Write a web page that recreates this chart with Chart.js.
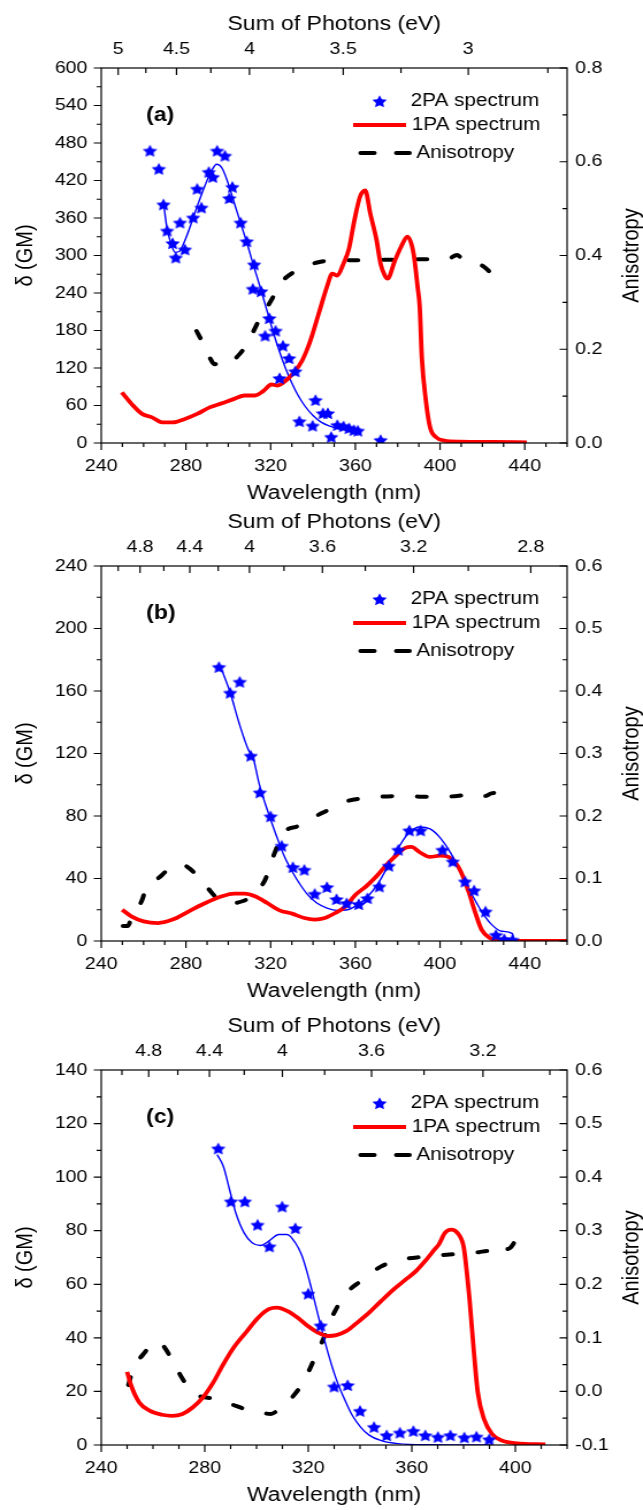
<!DOCTYPE html>
<html>
<head>
<meta charset="utf-8">
<script src="https://cdn.jsdelivr.net/npm/chart.js@4.4.1/dist/chart.umd.min.js"></script>
<style>
  html, body { margin: 0; padding: 0; background: #fff; }
  body { position: relative; width: 643px; height: 1510px; overflow: hidden; }
  canvas { position: absolute; left: 0; }
</style>
</head>
<body>
<!-- backing canvas is narrower than the page, CSS stretches it like the original figure -->
<canvas id="panelA" width="559" height="507" style="top:0px;width:643px;height:507px"></canvas>
<canvas id="panelB" width="559" height="507" style="top:498px;width:643px;height:507px"></canvas>
<canvas id="panelC" width="559" height="507" style="top:1002px;width:643px;height:507px"></canvas>
<script>
// ---------- panel (a) ----------
const A_LAM_2PA = [263, 267.2, 269.4, 271.1, 273.7, 275.2, 277.2, 279.5, 283.4, 285.3, 287.3, 290.8, 292.7, 294.7, 298.4, 300.5, 301.9, 305.8, 308.7, 311.6, 312.2, 315.5, 317.4, 319.4, 322.3, 324.2, 325.8, 328.7, 331.6, 333.6, 339.8, 341.2, 344.7, 347, 348.6, 351.5, 354.4, 357, 359.3, 361.2, 371.9];
const A_GM_2PA = [468, 439, 382, 340, 320, 297, 353, 310, 361, 407, 377, 434, 426, 468, 460, 392, 410, 353, 323, 247, 286, 243, 172, 200, 180, 104, 156, 136, 115, 35, 28, 69, 48, 48, 10, 29, 27, 24, 21, 20, 5];
const A_LAM_FIT = [269.5, 271, 273, 275, 277, 280, 283, 286, 289, 292, 294.5, 297, 300, 303, 306, 309, 312, 315, 318, 321, 324, 327, 330, 333, 336, 340, 344, 348, 352, 356, 361];
const A_GM_FIT = [382, 345, 318, 305, 307, 328, 356, 385, 412, 435, 446, 440, 415, 382, 350, 318, 283, 250, 215, 180, 148, 120, 96, 76, 60, 44, 33, 27, 23, 21, 19];
const A_LAM_1PA = [249.7, 254.2, 259.1, 264, 268.8, 273.7, 279.5, 285.3, 291.2, 297, 302.8, 307.7, 312.6, 316.5, 320.4, 323.3, 327.2, 331, 334.9, 338.8, 342.7, 346.6, 349.1, 351.5, 354.4, 357, 359.6, 362.2, 364.7, 367, 370, 371.9, 373.9, 375.2, 378.7, 381.6, 384.6, 387.5, 389.4, 390.4, 391.4, 393.3, 395.3, 398.2, 402, 409.8, 425.4, 441];
const A_GM_1PA = [81, 63, 47, 41, 33, 33, 38.5, 46.5, 57, 63.6, 70.6, 76, 76, 83, 93.6, 92, 100, 113, 132, 164, 207, 250, 271, 268, 287, 311, 357, 394, 404, 368, 325, 287, 268, 263, 292, 314, 330, 303, 250, 218, 137, 68, 25, 9, 3.7, 2, 1.6, 1];
const A_LAM_ANI = [285, 287, 289, 291.5, 293.5, 295, 297, 299, 302, 305, 308, 311, 314.5, 318, 321, 324, 327, 330, 334, 338, 342, 347, 353, 360, 370, 380, 390, 400, 404, 408, 411, 416, 420.5, 423.5];
const A_R_ANI = [0.239, 0.222, 0.2, 0.18, 0.168, 0.169, 0.164, 0.167, 0.175, 0.188, 0.205, 0.23, 0.262, 0.288, 0.31, 0.338, 0.352, 0.362, 0.373, 0.38, 0.385, 0.389, 0.39, 0.39, 0.391, 0.391, 0.392, 0.392, 0.393, 0.401, 0.39, 0.383, 0.377, 0.365];
const A_X_TICKS = [240, 280, 320, 360, 400, 440];
const A_Y_TICKS = [0, 60, 120, 180, 240, 300, 360, 420, 480, 540, 600];
const A_Y2_TICKS = [0, 0.2, 0.4, 0.6, 0.8];
const A_E_TICKS = [5, 4.5, 4, 3.5, 3];
const A_E_MINOR = [4.75, 4.25, 3.75, 3.25, 2.75];

// ---------- panel (b) ----------
const B_LAM_2PA = [295.6, 300.9, 305.4, 310.6, 314.9, 320, 325.2, 330.5, 335.9, 340.8, 346.6, 351.1, 355.9, 361.6, 365.7, 371.3, 375.8, 380.3, 385.5, 390.8, 401.1, 406, 411.8, 416.1, 421.5, 426.4, 430.3, 434.2];
const B_GM_2PA = [175.5, 159, 166, 118.7, 95.2, 79.9, 61.1, 47.4, 45.7, 30.3, 34.6, 26.9, 24.3, 23.7, 27.5, 35, 48.3, 58.5, 70.9, 70.9, 58.5, 51, 38.2, 32.5, 19, 4, 1.3, 0.9];
const B_LAM_FIT = [297, 300.9, 305, 309.6, 311.6, 314.5, 318.4, 322.3, 326.2, 330.1, 334, 337.9, 341.8, 346.6, 351.5, 356.3, 361.2, 366, 370.9, 375.8, 380.7, 385.5, 390.4, 395.3, 400.1, 405, 409.8, 414.7, 419.6, 424.4, 429.3, 434.2, 434.6];
const B_GM_FIT = [173.3, 159, 140, 122, 118, 101, 84, 69, 55, 44.6, 36, 29, 24.3, 21.1, 19.6, 20, 23.3, 28.6, 37.2, 48.9, 60.6, 69.6, 73, 71.7, 66, 56.4, 43.6, 30.7, 19, 10.5, 6.2, 4.7, 0.5];
const B_LAM_1PA = [249.9, 254.2, 260, 266.8, 273.7, 281.4, 289.2, 297, 302.8, 307.7, 312.6, 318.4, 324.2, 330.1, 335.9, 340.8, 345.6, 350.5, 355.4, 360.2, 365.1, 370, 374.8, 379.7, 383.6, 386.5, 390.4, 395.3, 400.1, 404, 407.9, 410.8, 413.7, 416.7, 419.6, 423.5, 429.3, 444.9, 460];
const B_GM_1PA = [20, 15.8, 12.6, 11.5, 13.7, 19, 24.3, 28.6, 30.3, 30.3, 28.6, 24.3, 19.6, 17.5, 14.7, 13.7, 14.7, 17.9, 22.2, 29.7, 35, 41.4, 48.9, 55.3, 59.6, 60.2, 56.8, 53.8, 54.7, 53.8, 48.9, 41.4, 30.7, 17.9, 7.3, 1.9, 0.2, 0, 0];
const B_LAM_ANI = [250.3, 252.5, 254.6, 257, 259.1, 261, 264.5, 268.2, 271, 273.7, 277.5, 280, 282.4, 285, 287.3, 291, 295.1, 299, 302.8, 307, 311.6, 314.5, 317.4, 321.9, 326.2, 333, 339.8, 345, 349.5, 356.3, 366, 372.9, 382.6, 390.4, 400.1, 408, 412, 415.7, 418.5, 421.5, 424, 425.4, 426.4];
const B_R_ANI = [0.024, 0.024, 0.04, 0.052, 0.064, 0.082, 0.094, 0.104, 0.113, 0.12, 0.122, 0.12, 0.114, 0.106, 0.098, 0.082, 0.067, 0.062, 0.061, 0.064, 0.072, 0.083, 0.098, 0.141, 0.173, 0.184, 0.197, 0.206, 0.213, 0.224, 0.229, 0.231, 0.232, 0.231, 0.231, 0.232, 0.234, 0.236, 0.233, 0.232, 0.236, 0.237, 0.224];
const B_X_TICKS = [240, 280, 320, 360, 400, 440];
const B_Y_TICKS = [0, 40, 80, 120, 160, 200, 240];
const B_Y2_TICKS = [0, 0.1, 0.2, 0.3, 0.4, 0.5, 0.6];
const B_E_TICKS = [4.8, 4.4, 4, 3.6, 3.2, 2.8];
const B_E_MINOR = [5.0, 4.6, 4.2, 3.8, 3.4, 3.0];

// ---------- panel (c) ----------
const C_LAM_2PA = [285.2, 290.1, 295.5, 300.4, 305, 309.9, 315, 320, 324.8, 330, 335.2, 340, 345.4, 350.3, 355.4, 360.6, 365.2, 370.1, 374.9, 380.3, 385, 389.9];
const C_GM_2PA = [110.8, 91, 91, 82.3, 74.2, 89.1, 81, 56.6, 44.7, 21.9, 22.4, 12.8, 6.8, 3.7, 4.7, 5.3, 3.7, 3.1, 3.7, 2.9, 3.2, 2.2];
const C_LAM_FIT = [284.8, 287.2, 289.6, 292, 295.2, 298.3, 301.5, 304.7, 308.6, 311.8, 315, 317.4, 319.4, 321.3, 324.5, 327.6, 330.8, 334, 337.1, 340.3, 343.5, 348.2, 354.6, 367.3, 391];
const C_GM_FIT = [108.4, 104, 95.3, 86.6, 79.2, 75.5, 74.5, 76.1, 78.6, 78.6, 75.5, 71, 65, 58.1, 45.7, 34.5, 24.6, 17.1, 10.9, 6.6, 3.7, 1.6, 0.5, 0.1, 0];
const C_LAM_1PA = [250, 251.6, 254.7, 258.7, 263.5, 267.4, 271.4, 275.3, 279.3, 283.3, 287.2, 291.2, 295.9, 300.7, 304.7, 307.8, 311.8, 315.8, 319.7, 323.7, 327.6, 330.8, 334.8, 338.7, 343.5, 348.2, 353, 357.8, 361.7, 365.7, 368.8, 370.4, 372.8, 375.2, 377.6, 380, 380.7, 382.3, 383.9, 385.5, 387.9, 391, 395, 400.5, 411.6];
const C_GM_1PA = [27.3, 22.1, 15.9, 12.8, 11.3, 10.9, 11.6, 14, 17.8, 23.4, 30.2, 36.4, 42, 47.6, 50.7, 51.3, 50.1, 47.6, 44.5, 42, 40.7, 41, 42.6, 45.5, 49.4, 53.8, 58.1, 61.9, 65, 69.3, 73, 74.8, 79.2, 80.4, 79.2, 74.2, 69.3, 54.4, 35.8, 19.6, 9.7, 4.1, 1.6, 0.6, 0.2];
const C_LAM_ANI = [250.5, 252.5, 256, 259, 261.5, 264, 267, 270, 273, 276, 279, 283, 287, 292, 297, 301, 305.5, 309, 313, 318, 322, 326, 329.5, 333, 336, 340, 344, 348, 353, 358, 364, 370, 376, 381, 386, 389, 391, 393, 396, 398, 400];
const C_R_ANI = [0.012, 0.045, 0.068, 0.085, 0.093, 0.085, 0.062, 0.035, 0.012, -0.005, -0.01, -0.013, -0.018, -0.027, -0.035, -0.039, -0.042, -0.032, -0.015, 0.017, 0.057, 0.1, 0.142, 0.172, 0.19, 0.205, 0.22, 0.233, 0.242, 0.248, 0.251, 0.254, 0.256, 0.258, 0.26, 0.262, 0.254, 0.262, 0.265, 0.268, 0.281];
const C_X_TICKS = [240, 280, 320, 360, 400];
const C_Y_TICKS = [0, 20, 40, 60, 80, 100, 120, 140];
const C_Y2_TICKS = [-0.1, 0, 0.1, 0.2, 0.3, 0.4, 0.5, 0.6];
const C_E_TICKS = [4.8, 4.4, 4, 3.6, 3.2];
const C_E_MINOR = [5.0, 4.6, 4.2, 3.8, 3.4, 3.0];

const FONT = "'Liberation Sans', Arial, sans-serif";
const BLUE = '#0000ff';
const RED = '#ff0000';
const HC = 1240; // eV*nm

Chart.defaults.font.family = FONT;
Chart.defaults.color = '#000';

// filled five-point star used as point style
function makeStar(r, color) {
    const size = Math.ceil(2 * r + 2);
    const c = document.createElement('canvas');
    c.width = size;
    c.height = size;
    const g = c.getContext('2d');
    g.fillStyle = color;
    g.beginPath();
    for (let i = 0; i < 10; i++) {
        const rad = i % 2 === 0 ? r : r * 0.5;
        const ang = -Math.PI / 2 + i * Math.PI / 5;
        const px = size / 2 + rad * Math.cos(ang);
        const py = size / 2 + 0.9 + rad * Math.sin(ang);
        if (i === 0) g.moveTo(px, py); else g.lineTo(px, py);
    }
    g.closePath();
    g.fill();
    return c;
}
const STAR = makeStar(6.6, BLUE);

function pts(xs, ys) {
    return xs.map((x, i) => ({ x: x, y: ys[i] }));
}

function isMul(v, step) {
    const q = v / step;
    return Math.abs(q - Math.round(q)) < 1e-6;
}

// frame, inner/outer ticks, legend, panel tag, right axis title
const decor = {
    id: 'decor',
    afterDatasetsDraw(chart, args, o) {
        const { ctx, chartArea: a } = chart;
        const { x, xTop, y, y2 } = chart.scales;
        ctx.save();
        ctx.strokeStyle = '#000';
        ctx.lineWidth = 1.2;
        ctx.setLineDash([]);
        ctx.strokeRect(a.left, a.top, a.right - a.left, a.bottom - a.top);

        ctx.beginPath();
        // bottom, outward, minor every 10 nm
        let n = Math.round((x.max - x.min) / 10);
        for (let i = 0; i <= n; i++) {
            const v = x.min + i * 10;
            const p = x.getPixelForValue(v);
            const len = isMul(v, 40) ? 7 : 4;
            ctx.moveTo(p, a.bottom);
            ctx.lineTo(p, a.bottom + len);
        }
        // left, outward
        n = Math.round((y.max - y.min) / o.yMinor);
        for (let i = 0; i <= n; i++) {
            const v = y.min + i * o.yMinor;
            const p = y.getPixelForValue(v);
            const len = isMul(v, o.yMinor * 2) ? 6.5 : 4;
            ctx.moveTo(a.left, p);
            ctx.lineTo(a.left - len, p);
        }
        // right, inward
        n = Math.round((y2.max - y2.min) / o.y2Minor);
        for (let i = 0; i <= n; i++) {
            const v = y2.min + i * o.y2Minor;
            const p = y2.getPixelForValue(v);
            const len = isMul(v, o.y2Minor * 2) ? 6.5 : 4;
            ctx.moveTo(a.right, p);
            ctx.lineTo(a.right - len, p);
        }
        // top, inward, energies
        o.eMajor.forEach(e => {
            const p = xTop.getPixelForValue(HC / e);
            ctx.moveTo(p, a.top);
            ctx.lineTo(p, a.top + 7);
        });
        o.eMinor.forEach(e => {
            const lam = HC / e;
            if (lam < xTop.min || lam > xTop.max) return;
            const p = xTop.getPixelForValue(lam);
            ctx.moveTo(p, a.top);
            ctx.lineTo(p, a.top + 5);
        });
        ctx.stroke();

        // panel tag
        ctx.fillStyle = '#000';
        ctx.textBaseline = 'middle';
        ctx.textAlign = 'left';
        ctx.font = 'bold 20px ' + FONT;
        ctx.fillText(o.tag, 127, a.top + 47);

        // legend
        const ds = chart.data.datasets;
        ctx.font = '18px ' + FONT;
        const r1 = a.top + 33, r2 = a.top + 57, r3 = a.top + 85;
        ctx.drawImage(STAR, 330 - STAR.width / 2, r1 - STAR.height / 2);
        ctx.fillText(ds[0].label, 357, r1);
        ctx.strokeStyle = RED;
        ctx.lineWidth = 4;
        ctx.beginPath();
        ctx.moveTo(307, r2);
        ctx.lineTo(353, r2);
        ctx.stroke();
        ctx.fillText(ds[2].label, 358, r2);
        ctx.strokeStyle = '#000';
        ctx.lineCap = 'round';
        ctx.beginPath();
        ctx.moveTo(313.5, r3);
        ctx.lineTo(325.5, r3);
        ctx.moveTo(344.5, r3);
        ctx.lineTo(356, r3);
        ctx.stroke();
        ctx.fillText(ds[3].label, 362, r3);

        // right axis title reads bottom to top
        ctx.translate(549, (a.top + a.bottom) / 2);
        ctx.rotate(-Math.PI / 2);
        ctx.textAlign = 'center';
        ctx.font = '20px ' + FONT;
        ctx.fillText('Anisotropy', 0, 0);
        ctx.restore();
    }
};

function makePanel(id, p) {
    const tickFont = { size: 17 };
    const titleFont = { size: 20 };
    return new Chart(document.getElementById(id), {
        type: 'scatter',
        data: {
            datasets: [
                {
                    label: '2PA spectrum',
                    data: pts(p.lam2, p.gm2),
                    pointStyle: STAR,
                    pointRadius: 6,
                    showLine: false,
                    yAxisID: 'y',
                    order: 0
                },
                {
                    label: '',
                    data: pts(p.lamFit, p.gmFit),
                    showLine: true,
                    borderColor: BLUE,
                    borderWidth: 1.4,
                    pointRadius: 0,
                    cubicInterpolationMode: 'monotone',
                    yAxisID: 'y',
                    order: 2
                },
                {
                    label: '1PA spectrum',
                    data: pts(p.lam1, p.gm1),
                    showLine: true,
                    borderColor: RED,
                    borderWidth: 3.8,
                    pointRadius: 0,
                    cubicInterpolationMode: 'monotone',
                    yAxisID: 'y',
                    order: 1
                },
                {
                    label: 'Anisotropy',
                    data: pts(p.lamAni, p.ani),
                    showLine: true,
                    borderColor: '#000',
                    borderWidth: 4,
                    borderDash: [8, 22],
                    borderCapStyle: 'round',
                    pointRadius: 0,
                    cubicInterpolationMode: 'monotone',
                    yAxisID: 'y2',
                    order: 3
                }
            ]
        },
        options: {
            responsive: false,
            animation: false,
            devicePixelRatio: 1,
            layout: { padding: 0 },
            plugins: {
                legend: { display: false },
                tooltip: { enabled: false },
                decor: {
                    tag: p.tag,
                    yMinor: p.yMinor,
                    y2Minor: p.y2Minor,
                    eMajor: p.eTicks,
                    eMinor: p.eMinor
                }
            },
            scales: {
                x: {
                    type: 'linear',
                    position: 'bottom',
                    min: 240,
                    max: p.xMax,
                    afterFit: s => { s.height = 64; },
                    afterBuildTicks: s => { s.ticks = p.xTicks.map(v => ({ value: v })); },
                    grid: { display: false, drawTicks: false },
                    border: { display: false },
                    ticks: { autoSkip: false, maxRotation: 0, minRotation: 0, padding: 13, font: tickFont, color: '#000', callback: v => String(v) },
                    title: { display: true, text: 'Wavelength (nm)', font: titleFont, color: '#000', padding: { top: 0, bottom: 1.5 } }
                },
                xTop: {
                    type: 'linear',
                    position: 'top',
                    min: 240,
                    max: p.xMax,
                    afterFit: s => { s.height = 68; },
                    afterBuildTicks: s => { s.ticks = p.eTicks.map(e => ({ value: HC / e })); },
                    grid: { display: false, drawTicks: false },
                    border: { display: false },
                    ticks: { autoSkip: false, maxRotation: 0, minRotation: 0, padding: 8.6, font: tickFont, color: '#000', callback: v => String(Math.round(HC / v * 100) / 100) },
                    title: { display: true, text: 'Sum of Photons (eV)', font: titleFont, color: '#000', padding: { top: 12, bottom: 0 } }
                },
                y: {
                    type: 'linear',
                    position: 'left',
                    min: p.yTicks[0],
                    max: p.yTicks[p.yTicks.length - 1],
                    afterFit: s => { s.width = 88; },
                    afterBuildTicks: s => { s.ticks = p.yTicks.map(v => ({ value: v })); },
                    grid: { display: false, drawTicks: false },
                    border: { display: false },
                    ticks: { autoSkip: false, padding: 12, font: tickFont, color: '#000', callback: v => String(v) },
                    title: { display: true, text: 'δ (GM)', font: titleFont, color: '#000', padding: { top: 10, bottom: 0 } }
                },
                y2: {
                    type: 'linear',
                    position: 'right',
                    min: p.y2Ticks[0],
                    max: p.y2Ticks[p.y2Ticks.length - 1],
                    afterFit: s => { s.width = 66; },
                    afterBuildTicks: s => { s.ticks = p.y2Ticks.map(v => ({ value: v })); },
                    grid: { display: false, drawTicks: false },
                    border: { display: false },
                    ticks: { autoSkip: false, padding: 7, font: tickFont, color: '#000', callback: v => v.toFixed(1) },
                    title: { display: false }
                }
            }
        },
        plugins: [decor]
    });
}

makePanel('panelA', {
    tag: '(a)', xMax: 460,
    lam2: A_LAM_2PA, gm2: A_GM_2PA, lamFit: A_LAM_FIT, gmFit: A_GM_FIT,
    lam1: A_LAM_1PA, gm1: A_GM_1PA, lamAni: A_LAM_ANI, ani: A_R_ANI,
    xTicks: A_X_TICKS, yTicks: A_Y_TICKS, y2Ticks: A_Y2_TICKS,
    eTicks: A_E_TICKS, eMinor: A_E_MINOR, yMinor: 30, y2Minor: 0.1
});
makePanel('panelB', {
    tag: '(b)', xMax: 460,
    lam2: B_LAM_2PA, gm2: B_GM_2PA, lamFit: B_LAM_FIT, gmFit: B_GM_FIT,
    lam1: B_LAM_1PA, gm1: B_GM_1PA, lamAni: B_LAM_ANI, ani: B_R_ANI,
    xTicks: B_X_TICKS, yTicks: B_Y_TICKS, y2Ticks: B_Y2_TICKS,
    eTicks: B_E_TICKS, eMinor: B_E_MINOR, yMinor: 20, y2Minor: 0.05
});
makePanel('panelC', {
    tag: '(c)', xMax: 420,
    lam2: C_LAM_2PA, gm2: C_GM_2PA, lamFit: C_LAM_FIT, gmFit: C_GM_FIT,
    lam1: C_LAM_1PA, gm1: C_GM_1PA, lamAni: C_LAM_ANI, ani: C_R_ANI,
    xTicks: C_X_TICKS, yTicks: C_Y_TICKS, y2Ticks: C_Y2_TICKS,
    eTicks: C_E_TICKS, eMinor: C_E_MINOR, yMinor: 10, y2Minor: 0.05
});
</script>
</body>
</html>
